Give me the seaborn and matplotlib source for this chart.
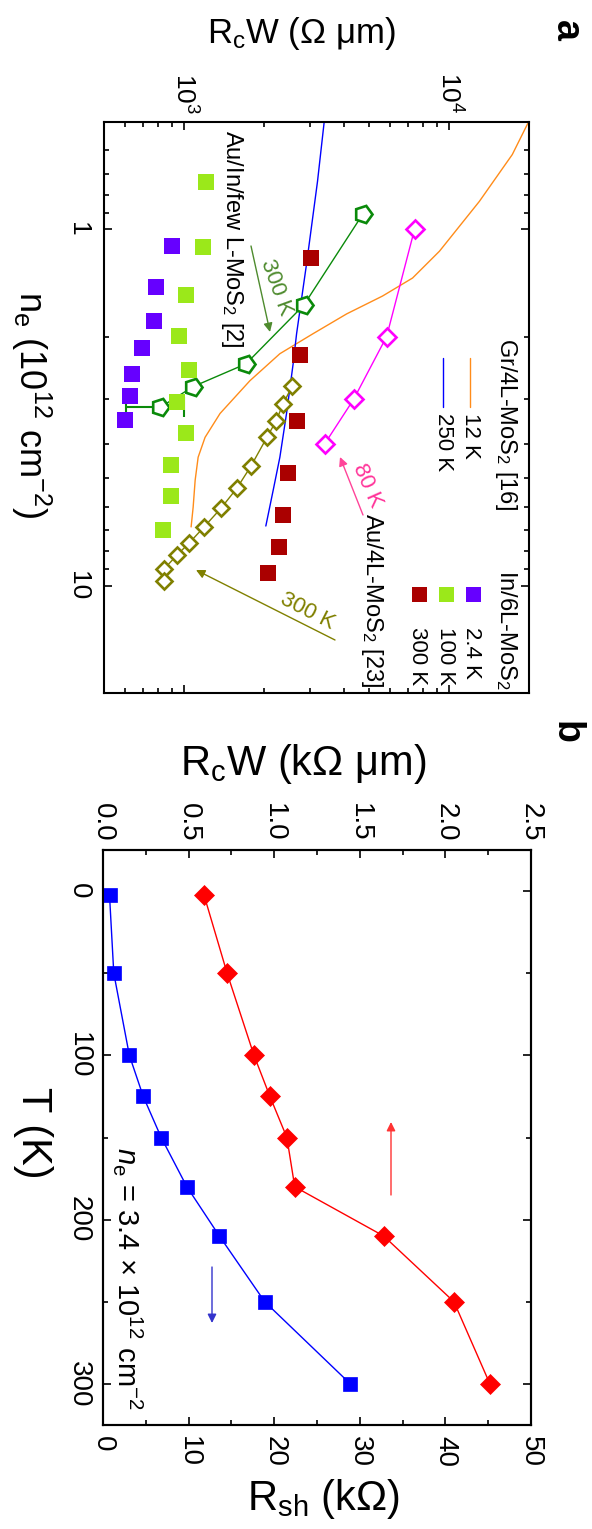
import matplotlib
matplotlib.use("Agg")
import matplotlib.pyplot as plt
import seaborn as sns
from matplotlib.ticker import FixedLocator, FixedFormatter, NullFormatter
from matplotlib.lines import Line2D

# ---------------- Panel a data (R_cW in Ohm um, n_e in 1e12 cm^-2) ----------------
ne_in_2p4K = [1.116, 1.452, 1.807, 2.149, 2.54, 2.93, 3.42]
rc_in_2p4K = [904, 787, 773, 697, 639, 628, 602]
ne_in_100K = [0.739, 1.123, 1.529, 1.990, 2.477, 3.06, 3.74, 4.59, 5.61, 6.98]
rc_in_100K = [1213, 1182, 1020, 960, 1047, 943, 1020, 896, 896, 836]
ne_in_300K = [1.205, 2.249, 3.44, 4.83, 6.34, 7.78, 9.20]
rc_in_300K = [3010, 2736, 2667, 2467, 2362, 2282, 2075]

ne_auin_300K = [0.908, 1.631, 2.385, 2.763, 3.16]
rc_auin_300K = [4720, 2834, 1715, 1084, 814]
auin_err_ne = [3.16]
auin_err_rc = [814]
auin_err_lo = [207]
auin_err_hi = [189]

ne_au_80K = [1.0, 2.0, 3.0, 4.0]
rc_au_80K = [7406, 5812, 4365, 3395]
ne_au_300K = [2.745, 3.10, 3.46, 3.835, 4.62, 5.32, 6.06, 6.84, 7.59, 8.19, 8.97, 9.68]
rc_au_300K = [2565, 2362, 2223, 2056, 1790, 1586, 1381, 1192, 1047, 944, 843, 843]

ne_gr_12K = [0.502, 0.617, 0.835, 1.152, 1.370, 1.539, 1.727, 1.965, 2.234, 2.66,
             3.287, 3.835, 4.36, 5.06, 6.02, 6.84]
rc_gr_12K = [19860, 17300, 13000, 9195, 7280, 5610, 4110, 3062, 2301, 1774,
             1369, 1202, 1132, 1103, 1084, 1065]
ne_gr_250K = [0.502, 0.734, 1.252, 1.965, 2.384, 3.287, 4.36, 5.39, 6.80]
rc_gr_250K = [3378, 3190, 2900, 2660, 2582, 2438, 2301, 2172, 2037]

# ---------------- Panel b data ----------------
T_K = [2.4, 50, 100, 125, 150, 180, 210, 250, 300]
rcw_kohm_um = [0.59, 0.725, 0.882, 0.975, 1.074, 1.12, 1.64, 2.05, 2.26]
rsh_kohm = [0.76, 1.26, 3.08, 4.7, 6.8, 9.8, 13.6, 18.9, 28.9]

a_xticks = [1e3, 1e4]
a_xticklabels = ["$10^{3}$", "$10^{4}$"]
a_yticks = [1, 10]
a_yticklabels = ["1", "10"]
b_rc_ticks = [0.0, 0.5, 1.0, 1.5, 2.0, 2.5]
b_rc_labels = ["0.0", "0.5", "1.0", "1.5", "2.0", "2.5"]
b_rsh_ticks = [0, 10, 20, 30, 40, 50]
b_T_ticks = [0, 100, 200, 300]

# ---------------- style ----------------
sns.set_style("ticks")
plt.rcParams["font.family"] = ["Liberation Sans", "DejaVu Sans"]
plt.rcParams.update({
    "mathtext.fontset": "custom",
    "mathtext.rm": "Liberation Sans",
    "mathtext.it": "Liberation Sans:italic",
    "mathtext.bf": "Liberation Sans:bold",
    "axes.edgecolor": "black",
    "xtick.color": "black",
    "ytick.color": "black",
    "text.color": "black",
    "axes.labelcolor": "black",
    "axes.linewidth": 1.5,
})

W, H = 592, 1529
fig = plt.figure(figsize=(W / 100, H / 100), dpi=100)


def P(x, y):
    return (x / W, 1 - y / H)


def rect(x0, y0, x1, y1):
    return [x0 / W, 1 - y1 / H, (x1 - x0) / W, (y1 - y0) / H]


def txt(x, y, s, size, rot=0, ha="center", va="center", color="black", weight="normal"):
    fig.text(x / W, 1 - y / H, s, fontsize=size, rotation=rot, ha=ha, va=va,
             color=color, fontweight=weight)


def arrow(x0, y0, x1, y1, color):
    fig.add_artist(matplotlib.patches.FancyArrowPatch(
        P(x0, y0), P(x1, y1), transform=fig.transFigure, arrowstyle="-|>",
        mutation_scale=13, color=color, lw=1.0, shrinkA=0, shrinkB=0))


def style_ticks(ax, labelsize):
    ax.tick_params(which="both", direction="in", width=1.2, labelsize=labelsize)
    ax.tick_params(which="major", length=5.5)
    ax.tick_params(which="minor", length=3.5)


# ================= Panel a =================
axa = fig.add_axes(rect(104, 122, 529, 693))
axa.set_xscale("log")
axa.set_yscale("log")
axa.set_xlim(500, 20000)
axa.set_ylim(20, 0.5)

sns.lineplot(x=rc_gr_12K, y=ne_gr_12K, ax=axa, sort=False, estimator=None,
             color="#FF8C1A", lw=1.0, zorder=2)
sns.lineplot(x=rc_gr_250K, y=ne_gr_250K, ax=axa, sort=False, estimator=None,
             color="#0000FF", lw=1.0, zorder=2)

axa.errorbar(auin_err_rc, auin_err_ne, xerr=[auin_err_lo, auin_err_hi], fmt="none",
             ecolor="#0A8A0A", elinewidth=1.5, capsize=7, capthick=1.5, zorder=3)

sns.lineplot(x=rc_auin_300K, y=ne_auin_300K, ax=axa, sort=False, estimator=None,
             color="#0A8A0A", lw=1.0, marker=(5, 0, -90), markersize=13,
             markerfacecolor="white", markeredgecolor="#0A8A0A", markeredgewidth=1.9,
             zorder=4)
sns.lineplot(x=rc_au_80K, y=ne_au_80K, ax=axa, sort=False, estimator=None,
             color="#FF00FF", lw=1.0, marker="D", markersize=9.5,
             markerfacecolor="white", markeredgecolor="#FF00FF", markeredgewidth=1.9,
             zorder=4)
sns.lineplot(x=rc_au_300K, y=ne_au_300K, ax=axa, sort=False, estimator=None,
             color="#808000", lw=1.0, marker="D", markersize=8.3,
             markerfacecolor="white", markeredgecolor="#808000", markeredgewidth=1.9,
             zorder=4)

sq = 118
sns.scatterplot(x=rc_in_2p4K, y=ne_in_2p4K, ax=axa, marker="s", s=sq,
                color="#6600FF", linewidth=0, zorder=5)
sns.scatterplot(x=rc_in_100K, y=ne_in_100K, ax=axa, marker="s", s=sq,
                color="#9BE81A", linewidth=0, zorder=5)
sns.scatterplot(x=rc_in_300K, y=ne_in_300K, ax=axa, marker="s", s=sq,
                color="#AA0000", linewidth=0, zorder=5)

axa.set_xlabel("")
axa.set_ylabel("")
axa.xaxis.set_major_locator(FixedLocator(a_xticks))
axa.xaxis.set_major_formatter(FixedFormatter(a_xticklabels))
axa.xaxis.set_minor_locator(FixedLocator([500, 600, 700, 800, 900, 2000, 3000, 4000, 5000,
                                          6000, 7000, 8000, 9000, 20000]))
axa.xaxis.set_minor_formatter(NullFormatter())
axa.yaxis.set_major_locator(FixedLocator(a_yticks))
axa.yaxis.set_major_formatter(FixedFormatter(a_yticklabels))
axa.yaxis.set_minor_locator(FixedLocator([0.5, 0.6, 0.7, 0.8, 0.9, 2, 3, 4, 5, 6, 7, 8, 9, 20]))
axa.yaxis.set_minor_formatter(NullFormatter())
style_ticks(axa, 19)
axa.tick_params(axis="x", which="both", top=True, bottom=True, labeltop=True,
                labelbottom=False, labelrotation=-90, pad=6)
axa.tick_params(axis="y", which="both", left=True, right=True, labelleft=True,
                labelright=False, labelrotation=-90, pad=10)
for lab in axa.get_yticklabels():
    lab.set_va("center")

# panel a texts
txt(301, 43, "R$_\\mathrm{c}$W (Ω μm)", 25, va="baseline")
txt(566, 30, "a", 27, rot=-90, weight="bold")
txt(31, 405, "n$_\\mathrm{e}$ (10$^{12}$ cm$^{-2}$)", 26, rot=-90)
txt(232, 130, "Au/In/few L-MoS$_2$ [2]", 17, rot=-90, va="top")

txt(506, 338, "Gr/4L-MoS$_2$ [16]", 17, rot=-90, va="top")
fig.add_artist(Line2D([470 / W, 470 / W], [1 - 358 / H, 1 - 407 / H], color="#FF8C1A", lw=1.0))
fig.add_artist(Line2D([443 / W, 443 / W], [1 - 358 / H, 1 - 407 / H], color="#0000FF", lw=1.0))
txt(470, 413, "12 K", 16, rot=-90, va="top")
txt(443, 413, "250 K", 16, rot=-90, va="top")

txt(506, 570, "In/6L-MoS$_2$", 17, rot=-90, va="top")
for xx, cc in [(473, "#6600FF"), (446, "#9BE81A"), (419, "#AA0000")]:
    fig.add_artist(Line2D([xx / W], [1 - 594 / H], marker="s", markersize=10.8,
                          color=cc, mew=0, linestyle="none"))
txt(472, 627, "2.4 K", 16, rot=-90, va="top")
txt(445, 627, "100 K", 16, rot=-90, va="top")
txt(418, 627, "300 K", 16, rot=-90, va="top")

txt(372, 513, "Au/4L-MoS$_2$ [23]", 17, rot=-90, va="top")
txt(367, 486, "80 K", 16, rot=-66, color="#FF3399")
arrow(363, 515, 340, 457, "#FF4499")
txt(307, 611, "300 K", 16, rot=-27, color="#808000")
arrow(335, 640, 196, 570, "#808000")
txt(276, 287, "300 K", 16, rot=-70, color="#4E8B2E")
arrow(251, 246, 270, 332, "#4E8B2E")

# ================= Panel b =================
axb = fig.add_axes(rect(103, 850, 531, 1425))
axb2 = axb.twiny()
axb.set_xlim(0, 2.5)
axb2.set_xlim(0, 50)
axb.set_ylim(325, -25)

sns.lineplot(x=rcw_kohm_um, y=T_K, ax=axb, sort=False, estimator=None,
             color="#FF0000", lw=1.0, marker="D", markersize=10,
             markerfacecolor="#FF0000", markeredgecolor="#FF0000", markeredgewidth=0.5)
sns.lineplot(x=rsh_kohm, y=T_K, ax=axb2, sort=False, estimator=None,
             color="#0000FF", lw=1.0, marker="s", markersize=10,
             markerfacecolor="#0000FF", markeredgecolor="#0000FF", markeredgewidth=0.5)
axb.set_ylim(325, -25)
for ax in (axb, axb2):
    ax.set_xlabel("")
    ax.set_ylabel("")

axb.xaxis.set_major_locator(FixedLocator(b_rc_ticks))
axb.xaxis.set_major_formatter(FixedFormatter(b_rc_labels))
axb.xaxis.set_minor_locator(FixedLocator([0.25, 0.75, 1.25, 1.75, 2.25]))
axb.yaxis.set_major_locator(FixedLocator(b_T_ticks))
axb.yaxis.set_minor_locator(FixedLocator([50, 150, 250]))
axb2.xaxis.set_major_locator(FixedLocator(b_rsh_ticks))
axb2.xaxis.set_minor_locator(FixedLocator([5, 15, 25, 35, 45]))
style_ticks(axb, 20)
style_ticks(axb2, 20)
axb.tick_params(axis="x", which="both", top=True, bottom=False, labeltop=True,
                labelbottom=False, labelrotation=-90, pad=6)
axb2.tick_params(axis="x", which="both", top=False, bottom=True, labeltop=False,
                 labelbottom=True, labelrotation=-90, pad=8)
axb.tick_params(axis="y", which="both", left=True, right=True, labelleft=True,
                labelright=False, labelrotation=-90, pad=8)
for lab in axb.get_yticklabels():
    lab.set_va("center")

txt(303, 775, "R$_\\mathrm{c}$W (kΩ μm)", 30, va="baseline")
txt(566, 732, "b", 27, rot=-90, weight="bold")
txt(33, 1133, "T (K)", 30, rot=-90)
txt(323, 1510, "R$_\\mathrm{sh}$ (kΩ)", 30, va="baseline")
txt(128, 1278, "$n_\\mathrm{e}$ = 3.4 × 10$^{12}$ cm$^{-2}$", 21, rot=-90)
arrow(391, 1195, 391, 1122, "#FF3333")
arrow(212, 1267, 212, 1323, "#3333CC")

fig.savefig("out.png", dpi=100)
